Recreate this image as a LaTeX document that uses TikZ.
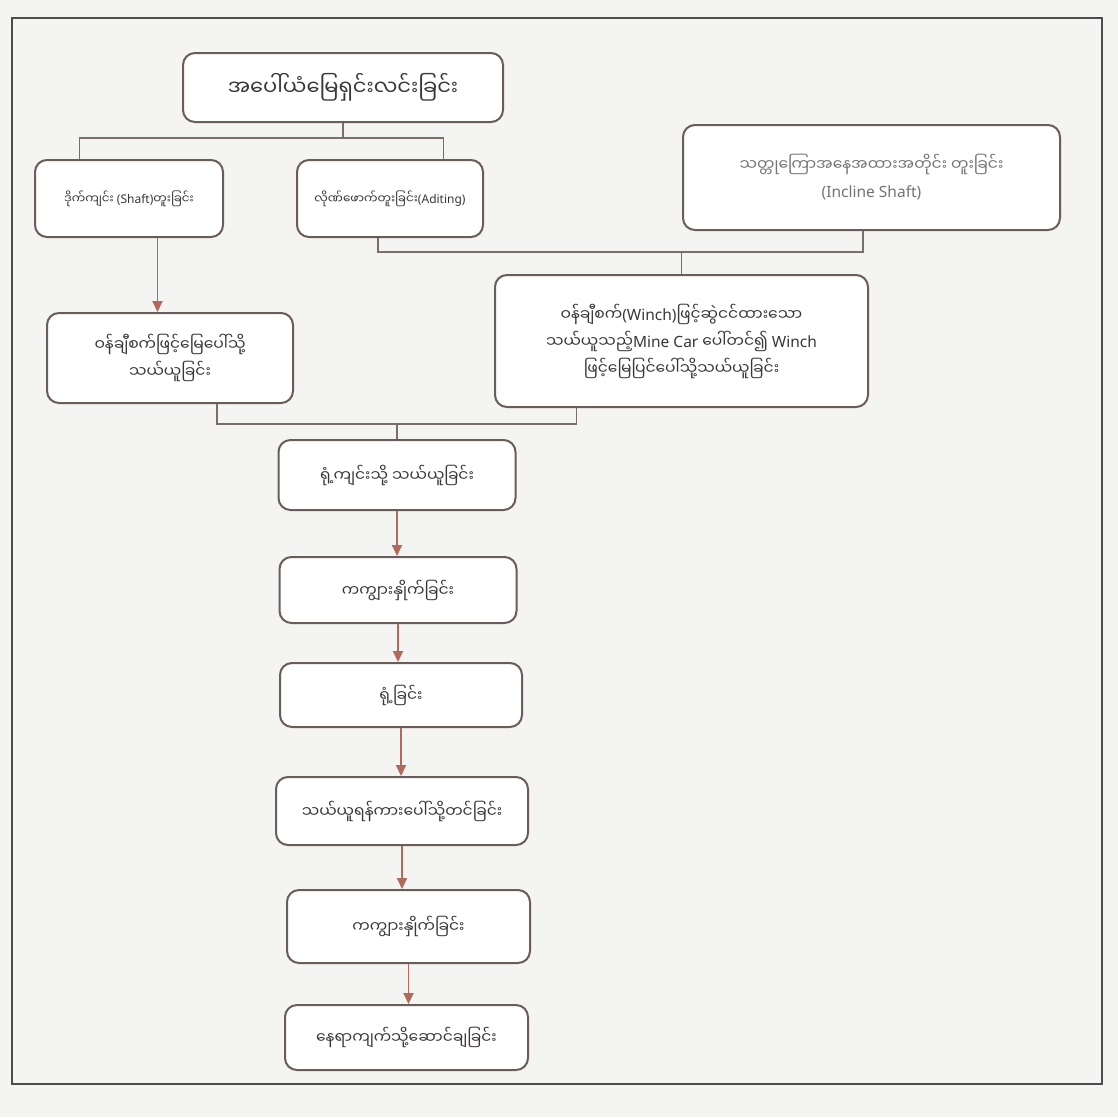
\documentclass[tikz,border=0pt]{standalone}
\usepackage{fontspec}
\newfontfamily\mya[Script=Myanmar]{Noto Sans Myanmar UI}
\newfontfamily\latf{Noto Sans}
\newcommand\LL[1]{{\latf #1}}
\usetikzlibrary{calc,arrows.meta}
\definecolor{bg}{HTML}{F4F4F2}
\definecolor{boxc}{HTML}{6A5C58}
\definecolor{linec}{HTML}{7A6E6A}
\definecolor{arrc}{HTML}{B06A5C}
\definecolor{txt}{HTML}{3A3635}
\begin{document}
\begin{tikzpicture}[x=1pt,y=-1pt,
  box/.style={draw=boxc, line width=2pt, rounded corners=12pt, fill=white, align=center, inner sep=2pt, font=\mya\fontsize{15.5}{27}\selectfont, text=txt},
  small/.style={font=\mya\fontsize{12}{20}\selectfont},
  conn/.style={draw=linec, line width=1.6pt},
  arr/.style={draw=arrc, line width=1.8pt, -{Triangle[width=10pt,length=11pt]}}]
\fill[bg] (0,0) rectangle (1118,1117);
\useasboundingbox (0,0) rectangle (1118,1117);
\draw[line width=2.2pt, draw=black!70] (12,18) rectangle (1102,1084);
% boxes
\node[box, minimum width=320pt, minimum height=69pt, font=\mya\fontsize{21}{24}\selectfont] (b1) at (343,87.5) {အပေါ်ယံမြေရှင်းလင်းခြင်း};
\node[box, small, minimum width=188pt, minimum height=77pt] (b2) at (129,198.5) {ဒိုက်ကျင်း \LL{(Shaft)}တူးခြင်း};
\node[box, small, minimum width=186pt, minimum height=77pt] (b3) at (390,198.5) {လိုဏ်ဖောက်တူးခြင်း\LL{(Aditing)}};
\node[box, minimum width=377pt, minimum height=105pt, text=txt!70] (b4) at (871.5,177.5) {သတ္တုကြောအနေအထားအတိုင်း တူးခြင်း\\\LL{(Incline Shaft)}};
\node[box, minimum width=246pt, minimum height=90pt] (b5) at (170,358) {ဝန်ချီစက်ဖြင့်မြေပေါ်သို့\\သယ်ယူခြင်း};
\node[box, minimum width=373pt, minimum height=132pt] (b6) at (681.5,341) {ဝန်ချီစက်\LL{(Winch)}ဖြင့်ဆွဲငင်ထားသော\\သယ်ယူသည့်\LL{Mine Car} ပေါ်တင်၍ \LL{Winch}\\ဖြင့်မြေပြင်ပေါ်သို့သယ်ယူခြင်း};
\node[box, minimum width=237pt, minimum height=70pt] (b7) at (397,475) {ရုံ့ကျင်းသို့ သယ်ယူခြင်း};
\node[box, minimum width=237pt, minimum height=66pt] (b8) at (398,590) {ကကျွားနှိုက်ခြင်း};
\node[box, minimum width=242pt, minimum height=64pt] (b9) at (401,695) {ရုံ့ခြင်း};
\node[box, minimum width=252pt, minimum height=68pt] (b10) at (402,811) {သယ်ယူရန်ကားပေါ်သို့တင်ခြင်း};
\node[box, minimum width=243pt, minimum height=73pt] (b11) at (408.5,926.5) {ကကျွားနှိုက်ခြင်း};
\node[box, minimum width=243pt, minimum height=65pt] (b12) at (406.5,1037.5) {နေရာကျက်သို့ဆောင်ချခြင်း};
% top bracket
\coordinate (j1) at ($(b1.south)+(0,15)$);
\draw[conn] (b1.south) -- (j1);
\coordinate (b2t) at ($(b2.north west)!0.24!(b2.north east)$);
\coordinate (b3t) at ($(b3.north west)!0.785!(b3.north east)$);
\draw[conn] (b2t) |- (j1) -| (b3t);
% bracket b3,b4 -> b6
\coordinate (b3b) at ($(b3.south west)!0.435!(b3.south east)$);
\coordinate (b4b) at ($(b4.south west)!0.477!(b4.south east)$);
\coordinate (j2) at ($(b3b)+(0,14)$);
\draw[conn] (b3b) -- (j2) -| (b4b);
\draw[conn] (b6.north) -- (b6.north |- j2);
% b2 -> b5
\coordinate (b2b) at ($(b2.south west)!0.65!(b2.south east)$);
\draw[arr] (b2b) -- (b2b |- b5.north);
% bracket b5,b6 -> b7
\coordinate (b5b) at ($(b5.south west)!0.69!(b5.south east)$);
\coordinate (b6b) at ($(b6.south west)!0.22!(b6.south east)$);
\coordinate (j3) at ($(b5b)+(0,20)$);
\draw[conn] (b5b) -- (j3) -| (b6b);
\draw[conn] (b7.north) -- (b7.north |- j3);
% chain
\draw[arr] (b7.south) -- (b7.south |- b8.north);
\draw[arr] (b8.south) -- (b8.south |- b9.north);
\draw[arr] (b9.south) -- (b9.south |- b10.north);
\draw[arr] (b10.south) -- (b10.south |- b11.north);
\draw[arr] (b11.south) -- (b11.south |- b12.north);
\end{tikzpicture}
\end{document}
